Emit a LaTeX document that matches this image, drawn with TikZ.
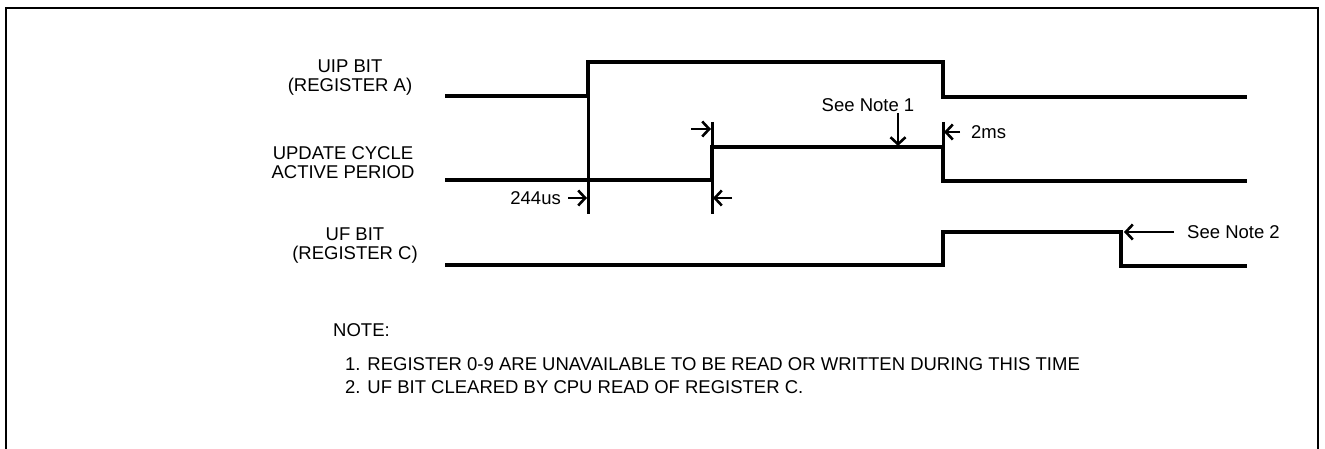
\documentclass[tikz,border=0pt]{standalone}
\usepackage{fontspec}
\setmainfont{Liberation Sans}
\usetikzlibrary{arrows.meta}
\begin{document}
\begin{tikzpicture}[x=1pt,y=-1pt,
  sig/.style={line width=3.6pt,line join=miter},
  tick/.style={line width=3pt},
  dim/.style={line width=2.6pt,-{Straight Barb[length=7pt,width=15pt,line width=2.6pt]}},
  lbl/.style={font=\fontsize{18.5}{19}\selectfont,inner sep=0pt,align=center},
  txt/.style={font=\fontsize{18.5}{20}\selectfont,inner sep=0pt}]
\useasboundingbox (0,0) rectangle (1325,449);
% frame
\draw[line width=2.4pt] (6,449) -- (6,8) -- (1318,8) -- (1318,449);
% labels
\node[lbl] (uipl) at (350,78) {UIP BIT\\(REGISTER A)};
\node[lbl] (ucl) at (343,163) {UPDATE CYCLE\\ACTIVE PERIOD};
\node[lbl] (ufl) at (355,246) {UF BIT\\(REGISTER C)};
% signals
\draw[sig] (445,96) -- (588,96) -- (588,62) -- (943,62) -- (943,97) -- (1247,97);
\draw[sig] (445,180) -- (712,180) -- (712,147) -- (943,147) -- (943,181) -- (1247,181);
\draw[sig] (445,265) -- (943,265) -- (943,232) -- (1121,232) -- (1121,266) -- (1247,266);
% extension ticks
\draw[tick] (588,96) -- (588,214);
\draw[tick] (712,122) -- (712,214);
\draw[tick] (943,122) -- (943,147);
% dimension arrows
\coordinate (a1s) at (568,198); \coordinate (a1e) at (587,198);
\coordinate (a2s) at (732,198); \coordinate (a2e) at (713,198);
\coordinate (a3s) at (691,129); \coordinate (a3e) at (711,129);
\coordinate (a4s) at (960,132); \coordinate (a4e) at (944,132);
\coordinate (a5s) at (898,113); \coordinate (a5e) at (898,146);
\coordinate (a6s) at (1174,232); \coordinate (a6e) at (1124,232);
\draw[dim] (a1s) -- (a1e);
\draw[dim] (a2s) -- (a2e);
\draw[dim] (a3s) -- (a3e);
\draw[dim] (a4s) -- (a4e);
\draw[dim] (a5s) -- (a5e);
\draw[dim] (a6s) -- (a6e);
\node[txt,anchor=east] (t244) at (561,198) {244us};
\node[txt,anchor=west] (t2ms) at (971,132) {2ms};
\node[txt] (n1) at (868,105) {See Note 1};
\node[txt,anchor=west] (n2) at (1187,232) {See Note 2};
% notes
\node[txt,anchor=west] (note) at (333,330) {NOTE:};
\node[txt,anchor=west] (note1) at (345,364) {1. REGISTER 0-9 ARE UNAVAILABLE TO BE READ OR WRITTEN DURING THIS TIME};
\node[txt,anchor=west] (note2) at (345,387) {2. UF BIT CLEARED BY CPU READ OF REGISTER C.};
\end{tikzpicture}
\end{document}
